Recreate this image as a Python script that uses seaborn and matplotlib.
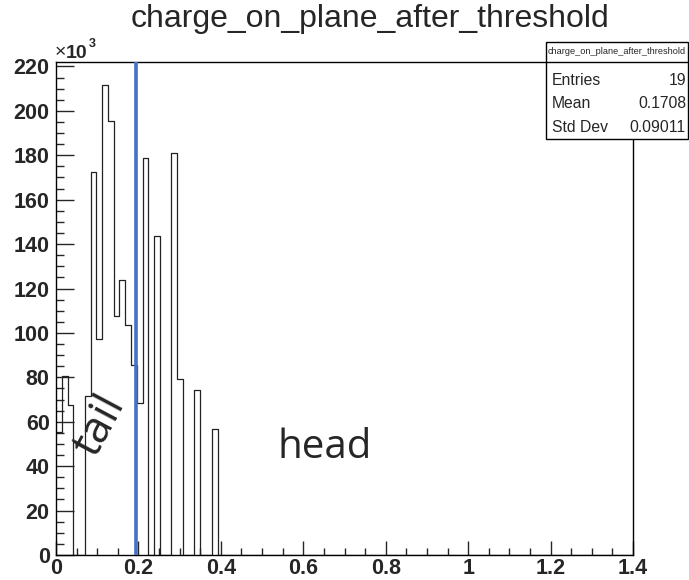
import matplotlib
matplotlib.use("Agg")
import matplotlib.pyplot as plt
import seaborn as sns
import pandas as pd
from matplotlib.patches import Rectangle
from matplotlib.lines import Line2D
from matplotlib.ticker import FixedLocator, MultipleLocator

# ---- data ----
charge = [0.007, 0.021, 0.035, 0.077, 0.091, 0.105, 0.119, 0.133, 0.147, 0.161,
          0.175, 0.189, 0.203, 0.217, 0.245, 0.287, 0.301, 0.343, 0.385]
weight = [55500, 80600, 67600, 71600, 172400, 97200, 211700, 195600, 107800, 123700,
          103600, 85400, 68300, 178700, 143800, 181000, 79100, 74200, 56800]
n_bins = 100
x_range = (0.0, 1.4)
y_max = 222000
threshold_x = 0.193
title = "charge_on_plane_after_threshold"
xticks = [0, 0.2, 0.4, 0.6, 0.8, 1.0, 1.2, 1.4]
xtick_labels = ["0", "0.2", "0.4", "0.6", "0.8", "1", "1.2", "1.4"]
yticks = [0, 20000, 40000, 60000, 80000, 100000, 120000, 140000, 160000, 180000, 200000, 220000]
ytick_labels = ["0", "20", "40", "60", "80", "100", "120", "140", "160", "180", "200", "220"]
stats_labels = ["Entries", "Mean", "Std Dev"]
stats_values = ["19", "0.1708", "0.09011"]

df = pd.DataFrame({"charge": charge, "weight": weight})

sns.set_style("ticks")
plt.rcParams["font.family"] = ["Liberation Sans", "DejaVu Sans"]

W, H = 689, 580
fig = plt.figure(figsize=(W / 100, H / 100), dpi=100)
L, R, T, B = 56, 633, 62, 555
ax = fig.add_axes([L / W, 1 - B / H, (R - L) / W, (B - T) / H])

sns.histplot(data=df, x="charge", weights="weight", bins=n_bins, binrange=x_range,
             element="step", fill=False, color="#222222", linewidth=0.9, ax=ax)

ax.axvline(threshold_x, color="#4472c4", linewidth=2.6, zorder=5)

ax.set_xlim(*x_range)
ax.set_ylim(0, y_max)
ax.set_xlabel("")
ax.set_ylabel("")

ax.xaxis.set_major_locator(FixedLocator(xticks))
ax.yaxis.set_major_locator(FixedLocator(yticks))
ax.xaxis.set_minor_locator(MultipleLocator(0.05))
ax.yaxis.set_minor_locator(MultipleLocator(5000))
ax.set_xticklabels(xtick_labels, fontweight="bold", fontsize=15.5)
ax.set_yticklabels(ytick_labels, fontweight="bold", fontsize=15.5)

ax.tick_params(axis="x", which="major", direction="in", length=10, width=1, pad=2.5, top=False)
ax.tick_params(axis="x", which="minor", direction="in", length=4.8, width=1, top=False)
ax.tick_params(axis="y", which="major", direction="in", length=12.7, width=1, pad=4.5, right=False)
ax.tick_params(axis="y", which="minor", direction="in", length=6, width=1, right=False)
for s in ax.spines.values():
    s.set_visible(True)
    s.set_linewidth(1.0)
    s.set_color("black")

ax.text(0.108, 58000, "tail", rotation=62, fontsize=32, family="Open Sans",
        ha="center", va="center")
ax.text(0.653, 48200, "head", fontsize=29, family="Open Sans", ha="center", va="center")

# title
fig.text(370 / W, 1 - 19 / H, title, ha="center", va="center", fontsize=23)

# x10^3 exponent
fig.text(55 / W, 1 - 53 / H, "\u00d7", ha="left", va="center", fontsize=14)
fig.text(66 / W, 1 - 53 / H, "10", ha="left", va="center", fontsize=14, fontweight="bold")
fig.text(88.5 / W, 1 - 44 / H, "3", ha="left", va="center", fontsize=9, fontweight="bold")

# stats box
bx0, bx1, by0, by1, bdiv = 546, 688, 42, 139, 62
fig.add_artist(Rectangle((bx0 / W, 1 - by1 / H), (bx1 - bx0) / W, (by1 - by0) / H,
                         transform=fig.transFigure, facecolor="white", edgecolor="black",
                         linewidth=1.0, zorder=10))
fig.add_artist(Line2D([bx0 / W, bx1 / W], [1 - bdiv / H, 1 - bdiv / H],
                      transform=fig.transFigure, color="black", linewidth=1.0, zorder=11))
fig.text((bx0 + bx1) / 2 / W, 1 - 52 / H, title, ha="center", va="center",
         fontsize=6.6, zorder=12)
row_y = [80, 104, 128]
for lab, val, ry in zip(stats_labels, stats_values, row_y):
    fig.text(552 / W, 1 - ry / H, lab, ha="left", va="center", fontsize=11.3, zorder=12)
    fig.text(686 / W, 1 - ry / H, val, ha="right", va="center", fontsize=11.3, zorder=12)

fig.savefig("out.png", dpi=100)
